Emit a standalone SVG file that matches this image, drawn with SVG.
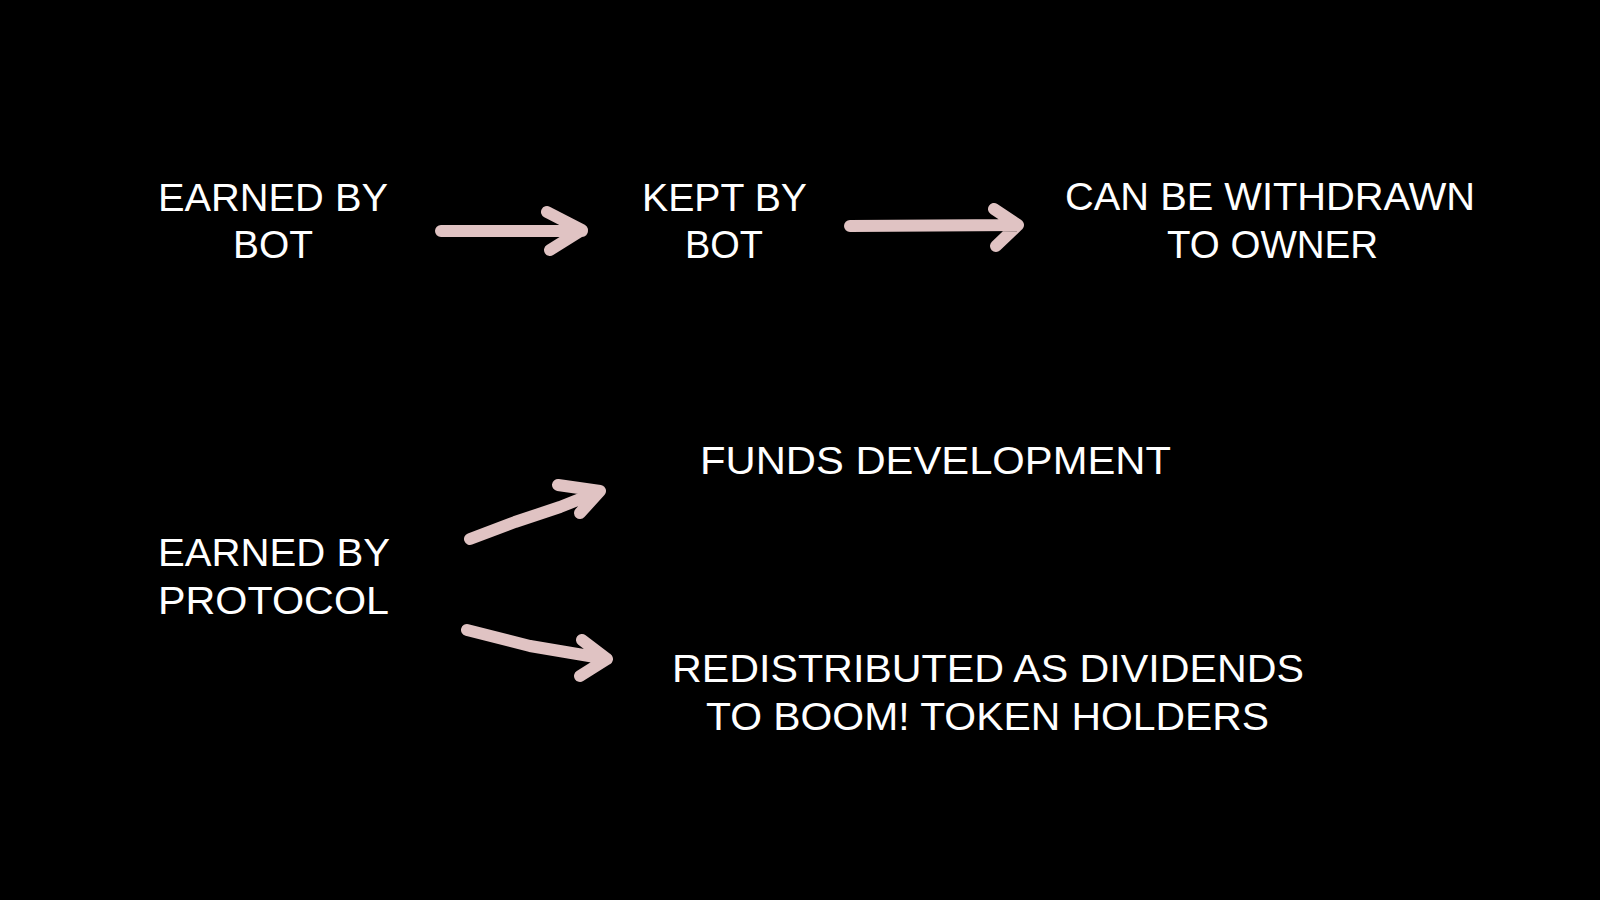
<svg xmlns="http://www.w3.org/2000/svg" width="1600" height="900" viewBox="0 0 1600 900">
<style>
.t{font-family:"Liberation Sans",Arial,sans-serif;font-size:39px;fill:#ffffff;}
.a{fill:none;stroke:#E0C3C3;stroke-width:12;stroke-linecap:round;stroke-linejoin:round;}
</style>
<rect width="1600" height="900" fill="#000000"/>
<g id="node-earned-bot">
<text class="t" x="158" y="211" textLength="230" lengthAdjust="spacingAndGlyphs">EARNED BY</text>
<text class="t" x="233" y="258" textLength="80" lengthAdjust="spacingAndGlyphs">BOT</text>
</g>
<g id="node-kept-bot">
<text class="t" x="642" y="211" textLength="165" lengthAdjust="spacingAndGlyphs">KEPT BY</text>
<text class="t" x="685" y="258" textLength="78" lengthAdjust="spacingAndGlyphs">BOT</text>
</g>
<g id="node-withdrawn">
<text class="t" x="1065" y="210" textLength="410" lengthAdjust="spacingAndGlyphs">CAN BE WITHDRAWN</text>
<text class="t" x="1167" y="258" textLength="211" lengthAdjust="spacingAndGlyphs">TO OWNER</text>
</g>
<g id="node-earned-protocol">
<text class="t" x="158" y="566" textLength="232" lengthAdjust="spacingAndGlyphs">EARNED BY</text>
<text class="t" x="158" y="614" textLength="231" lengthAdjust="spacingAndGlyphs">PROTOCOL</text>
</g>
<g id="node-funds">
<text class="t" x="700" y="474" textLength="471" lengthAdjust="spacingAndGlyphs">FUNDS DEVELOPMENT</text>
</g>
<g id="node-redistributed">
<text class="t" x="672" y="682" textLength="632" lengthAdjust="spacingAndGlyphs">REDISTRIBUTED AS DIVIDENDS</text>
<text class="t" x="706" y="730" textLength="563" lengthAdjust="spacingAndGlyphs">TO BOOM! TOKEN HOLDERS</text>
</g>
<g id="connectors">
<path class="a" d="M441,231 L582,231 M547,212 L582,230 L550,250"/>
<path class="a" d="M850,226 L1018,225 M994,209 L1018,225 L996,246"/>
<path class="a" d="M470,539 L515,522 L560,507 L600,491 M558,485 L600,491 L580,513"/>
<path class="a" d="M467,630 L530,646 L607,659 M582,640 L607,659 L580,676"/>
</g>
</svg>
